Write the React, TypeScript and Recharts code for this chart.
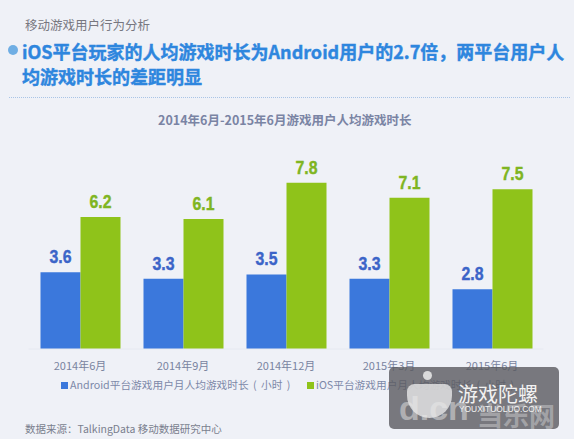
import React from "react";
import { BarChart, Bar, XAxis, YAxis, LabelList, Legend } from "recharts";

const categories = ["2014年6月", "2014年9月", "2014年12月", "2015年3月", "2015年6月"];
const androidValues = [3.6, 3.3, 3.5, 3.3, 2.8];
const iosValues = [6.2, 6.1, 7.8, 7.1, 7.5];
const androidName = "Android平台游戏用户月人均游戏时长 ( 小时 )";
const iosName = "iOS平台游戏用户月人均游戏时长 ( 小时 )";
const data = categories.map((c, i) => ({ c, android: androidValues[i], ios: iosValues[i] }));

const CJK = '"Noto Sans CJK SC", "Noto Sans", sans-serif';
const abs = (left: number, top: number, extra: React.CSSProperties = {}): React.CSSProperties => ({
  position: "absolute", left, top, whiteSpace: "pre", fontFamily: CJK, lineHeight: 1, ...extra,
});

const LegendContent = (props: any) => (
  <div style={{ position: "relative", height: 0 }}>
    {(props.payload || []).map((p: any, i: number) => (
      <div key={p.value} style={abs(i === 0 ? 61 : 307, 0, { fontSize: 10.7, color: "#7C88A8", wordSpacing: 2 })}>
        <span style={{ display: "inline-block", width: 7, height: 7, background: p.color, marginRight: 2, verticalAlign: 0 }} />
        {p.value}
      </div>
    ))}
  </div>
);

const valueLabel = (fill: string) => (props: any) => {
  const { x, y, width, value } = props;
  return (
    <text x={x + width / 2} y={y - 9} textAnchor="middle" fill={fill} fontFamily='"Liberation Sans", sans-serif'
      fontWeight={700} fontSize={19} stroke={fill} strokeWidth={0.4} textLength={22} lengthAdjust="spacingAndGlyphs">
      {Number(value).toFixed(1)}
    </text>
  );
};

const titleStyle: React.CSSProperties = { fontSize: 18, fontWeight: 700, color: "#2E86DE", WebkitTextStroke: "0.4px #2E86DE" };

export default function App() {
  return (
    <div style={{ position: "absolute", left: 0, top: 0, width: 574, height: 439, background: "#EFF1F7", overflow: "hidden" }}>
      <div style={abs(25, 19, { fontSize: 12.5, color: "#77777F" })}>移动游戏用户行为分析</div>
      <div style={{ position: "absolute", left: 8, top: 45, width: 10, height: 10, borderRadius: 5, background: "#6FAEE4" }} />
      <div style={abs(22, 42, titleStyle)}>iOS平台玩家的人均游戏时长为Android用户的2.7倍，两平台用户人</div>
      <div style={abs(22, 67, titleStyle)}>均游戏时长的差距明显</div>
      <div style={{ position: "absolute", left: 9, top: 97, width: 561, borderTop: "1px dotted #A9C4E6" }} />
      <div style={abs(158, 114, { fontSize: 12.5, fontWeight: 700, color: "#7A84A4" })}>2014年6月-2015年6月游戏用户人均游戏时长</div>

      <div style={{ position: "absolute", left: 0, top: 0 }}>
        <BarChart width={574} height={439} data={data} barGap={0} barCategoryGap={12}
          margin={{ top: 178.6, right: 30.5, bottom: 60, left: 28.5 }}>
          <YAxis hide domain={[0, 8]} />
          <XAxis dataKey="c" height={30} interval={0} tickLine={false} tickMargin={7}
            axisLine={{ stroke: "#E6E9F1" }} tick={{ fontSize: 11, fill: "#7A84A0", fontFamily: CJK }} />
          <Bar dataKey="android" name={androidName} fill="#3B78DC" isAnimationActive={false}>
            <LabelList dataKey="android" content={valueLabel("#3B64C8")} />
          </Bar>
          <Bar dataKey="ios" name={iosName} fill="#8FC31A" isAnimationActive={false}>
            <LabelList dataKey="ios" content={valueLabel("#7FB522")} />
          </Bar>
          <Legend content={LegendContent} wrapperStyle={{ position: "absolute", left: 0, top: 380, width: 574, height: 0 }} />
        </BarChart>
      </div>

      <div style={abs(25, 424, { fontSize: 10.5, color: "#7A7F8E" })}>数据来源：TalkingData 移动数据研究中心</div>

      <div style={{ position: "absolute", left: 389, top: 367, width: 170, height: 62, borderRadius: 5, background: "rgba(90,90,95,0.8)", overflow: "hidden" }}>
        <div style={abs(10, 24, { fontSize: 34, fontWeight: 700, color: "rgba(225,225,225,0.55)", fontFamily: '"Liberation Sans", sans-serif' })}>d.cn</div>
        <div style={abs(88, 35, { fontSize: 26, fontWeight: 700, color: "rgba(225,225,225,0.42)" })}>当乐网</div>
        <div style={{ position: "absolute", left: 34, top: 4, width: 9, height: 9, borderRadius: 5, background: "rgba(235,235,235,0.85)" }} />
        <div style={{ position: "absolute", left: 18, top: 17, width: 45, height: 34, borderRadius: "8px 8px 24px 24px", background: "rgba(235,235,235,0.78)" }} />
        <div style={abs(69, 17, { fontSize: 20, color: "#F2F2F2" })}>游戏陀螺</div>
        <div style={abs(70, 38, { fontSize: 8.4, color: "#F2F2F2", fontFamily: '"Liberation Sans", sans-serif' })}>YOUXITUOLUO.COM</div>
      </div>
    </div>
  );
}
